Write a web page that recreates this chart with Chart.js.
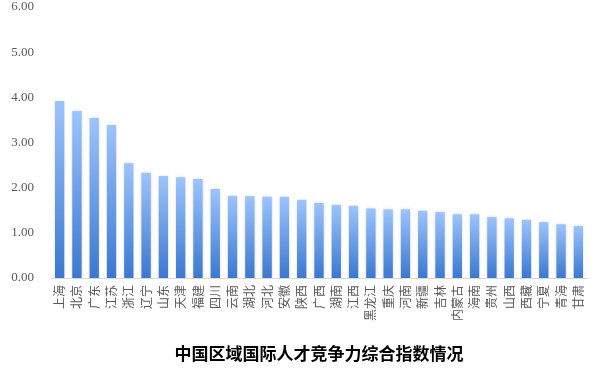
<!DOCTYPE html>
<html>
<head>
<meta charset="utf-8">
<script src="https://cdn.jsdelivr.net/npm/chart.js@4/dist/chart.umd.min.js"></script>
<style>
    html, body { margin: 0; padding: 0; background: #ffffff; }
    #wrap { width: 600px; height: 374px; }
</style>
</head>
<body>
<div id="wrap"><canvas id="chart"></canvas></div>
<script>
// Regions, sorted by index value
const regions = ['上海', '北京', '广东', '江苏', '浙江', '辽宁', '山东', '天津', '福建', '四川',
    '云南', '湖北', '河北', '安徽', '陕西', '广西', '湖南', '江西', '黑龙江', '重庆',
    '河南', '新疆', '吉林', '内蒙古', '海南', '贵州', '山西', '西藏', '宁夏', '青海', '甘肃'];
const indexValues = [3.92, 3.70, 3.54, 3.39, 2.54, 2.33, 2.26, 2.23, 2.19, 1.97,
    1.82, 1.81, 1.80, 1.80, 1.73, 1.66, 1.62, 1.60, 1.54, 1.52,
    1.52, 1.49, 1.46, 1.41, 1.41, 1.35, 1.32, 1.29, 1.24, 1.19, 1.15];
const yTicks = [0, 1, 2, 3, 4, 5, 6];
const chartTitle = '中国区域国际人才竞争力综合指数情况';

const serif = '"Liberation Serif", "Times New Roman", serif';
const cjk = '"Noto Sans CJK SC", sans-serif';

// Each bar gets its own light-to-dark gradient
function barGradient(context) {
    const chart = context.chart;
    const yScale = chart.scales.y;
    if (!chart.chartArea || !yScale || context.raw === undefined) {
        return '#6a9ee8';
    }
    const top = yScale.getPixelForValue(context.raw);
    const bottom = yScale.getPixelForValue(0);
    const g = chart.ctx.createLinearGradient(0, top, 0, bottom);
    g.addColorStop(0, '#9dc4fc');
    g.addColorStop(1, '#3a78d0');
    return g;
}

// Soft halo around the bars
const barShadow = {
    id: 'barShadow',
    beforeDatasetsDraw(chart) {
        const ctx = chart.ctx;
        ctx.save();
        ctx.shadowColor = 'rgba(0, 0, 0, 0.18)';
        ctx.shadowBlur = 3;
    },
    afterDatasetsDraw(chart) {
        chart.ctx.restore();
    }
};

// Title centred under the plot area
const bottomTitle = {
    id: 'bottomTitle',
    afterDraw(chart) {
        const ctx = chart.ctx;
        const area = chart.chartArea;
        ctx.save();
        ctx.font = 'bold 17px ' + cjk;
        ctx.fillStyle = '#000000';
        ctx.textAlign = 'center';
        ctx.textBaseline = 'middle';
        ctx.fillText(chartTitle, (area.left + area.right) / 2, 354);
        ctx.restore();
    }
};

new Chart(document.getElementById('chart'), {
    type: 'bar',
    data: {
        labels: regions,
        datasets: [{
            data: indexValues,
            backgroundColor: barGradient,
            borderWidth: 0,
            barPercentage: 0.54,
            categoryPercentage: 1
        }]
    },
    options: {
        responsive: true,
        maintainAspectRatio: false,
        animation: false,
        layout: { padding: { left: 11, right: 13, top: 7, bottom: 53 } },
        plugins: {
            legend: { display: false },
            tooltip: { enabled: false }
        },
        scales: {
            x: {
                grid: { display: false, drawTicks: false },
                border: { display: true, color: '#d9d9d9', width: 1 },
                afterFit(scale) {
                    scale.height = 43;
                    scale.paddingTop = 0;
                    scale.paddingBottom = 0;
                },
                ticks: {
                    autoSkip: false,
                    maxRotation: 90,
                    minRotation: 90,
                    padding: 7,
                    color: '#595959',
                    font: { family: cjk, size: 12 }
                }
            },
            y: {
                min: 0,
                max: 6,
                afterBuildTicks(axis) {
                    axis.ticks = yTicks.map(v => ({ value: v }));
                },
                afterFit(scale) {
                    scale.width = 40;
                    scale.paddingTop = 0;
                    scale.paddingBottom = 0;
                },
                grid: { display: false, drawTicks: false },
                border: { display: false },
                ticks: {
                    padding: 17,
                    color: '#595959',
                    font: { family: serif, size: 13 },
                    callback: v => Number(v).toFixed(2)
                }
            }
        }
    },
    plugins: [barShadow, bottomTitle]
});
</script>
</body>
</html>
